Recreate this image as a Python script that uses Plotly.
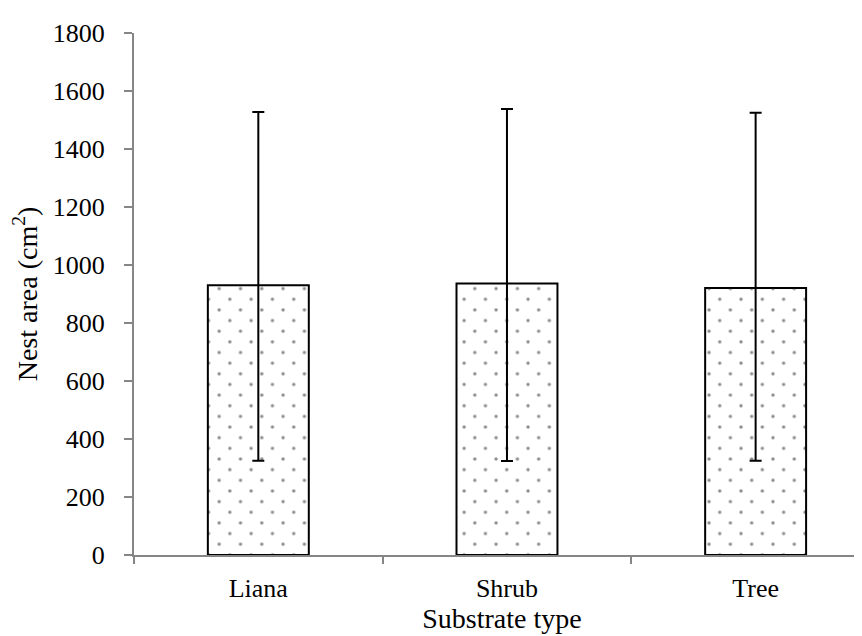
import plotly.graph_objects as go

categories = ["Liana", "Shrub", "Tree"]
nest_area_mean = [930, 936, 921]
nest_area_err_plus = [598, 602, 604]
nest_area_err_minus = [605, 612, 596]
y_ticks = [0, 200, 400, 600, 800, 1000, 1200, 1400, 1600, 1800]

FONT = "Liberation Serif"
AXIS_GRAY = "#868686"

# plot geometry (px) used to offset a second dot layer for a staggered texture
PLOT_W, PLOT_H = 736, 522
X0, X1 = -0.5, 2.46
Y0, Y1 = 0, 1800
DOT = 21.3
dx_px = dy_px = DOT / 2
px_per_x = PLOT_W / (X1 - X0)
px_per_y = PLOT_H / (Y1 - Y0)

bar_w = 0.406
dot_pattern = dict(shape=".", fgcolor="#1a1a1a", bgcolor="rgba(0,0,0,0)",
                   size=DOT, solidity=0.02, fillmode="overlay")

fig = go.Figure()
fig.add_trace(go.Bar(
    x=categories, y=nest_area_mean, width=bar_w,
    marker=dict(color="white", line=dict(color="black", width=0),
                pattern=dot_pattern),
    showlegend=False, hoverinfo="skip",
))
fig.add_trace(go.Bar(
    x=categories, y=nest_area_mean, width=bar_w,
    xaxis="x2", yaxis="y2",
    marker=dict(color="rgba(0,0,0,0)", line=dict(color="black", width=0),
                pattern=dot_pattern),
    showlegend=False, hoverinfo="skip",
))
fig.add_trace(go.Bar(
    x=categories, y=nest_area_mean, width=bar_w,
    marker=dict(color="rgba(0,0,0,0)", line=dict(color="black", width=2)),
    error_y=dict(type="data", symmetric=False,
                 array=nest_area_err_plus, arrayminus=nest_area_err_minus,
                 visible=True, color="black", thickness=2, width=6),
    showlegend=False,
))

fig.update_layout(
    width=862, height=636,
    margin=dict(l=126, r=0, t=25, b=89, pad=0),
    paper_bgcolor="white", plot_bgcolor="rgba(0,0,0,0)",
    barmode="overlay",
    font=dict(family=FONT, color="black", size=26),
    xaxis=dict(
        range=[X0, X1],
        showline=True, linecolor=AXIS_GRAY, linewidth=2,
        ticks="outside", tickson="boundaries", ticklen=7,
        tickcolor=AXIS_GRAY, tickwidth=2,
        tickfont=dict(family=FONT, size=26, color="black"),
        ticklabelstandoff=9,
        showgrid=False, zeroline=False,
        title=dict(text="Substrate type", font=dict(family=FONT, size=28),
                   standoff=4),
    ),
    yaxis=dict(
        range=[Y0, Y1],
        tickvals=y_ticks,
        showline=True, linecolor=AXIS_GRAY, linewidth=2,
        ticks="outside", ticklen=8, tickcolor=AXIS_GRAY, tickwidth=2,
        tickfont=dict(family=FONT, size=26, color="black"),
        ticklabelstandoff=14,
        showgrid=False, zeroline=False,
        title=dict(text="Nest area (cm<sup>2</sup>)",
                   font=dict(family=FONT, size=28), standoff=10),
    ),
    xaxis2=dict(
        domain=[dx_px / PLOT_W, 1],
        range=[X0 + dx_px / px_per_x, X1],
        anchor="y2", visible=False,
        categoryorder="array", categoryarray=categories,
    ),
    yaxis2=dict(
        domain=[0, 1 - dy_px / PLOT_H],
        range=[Y0, Y1 - dy_px / px_per_y],
        anchor="x2", visible=False,
    ),
)

fig.write_html("out.html")
